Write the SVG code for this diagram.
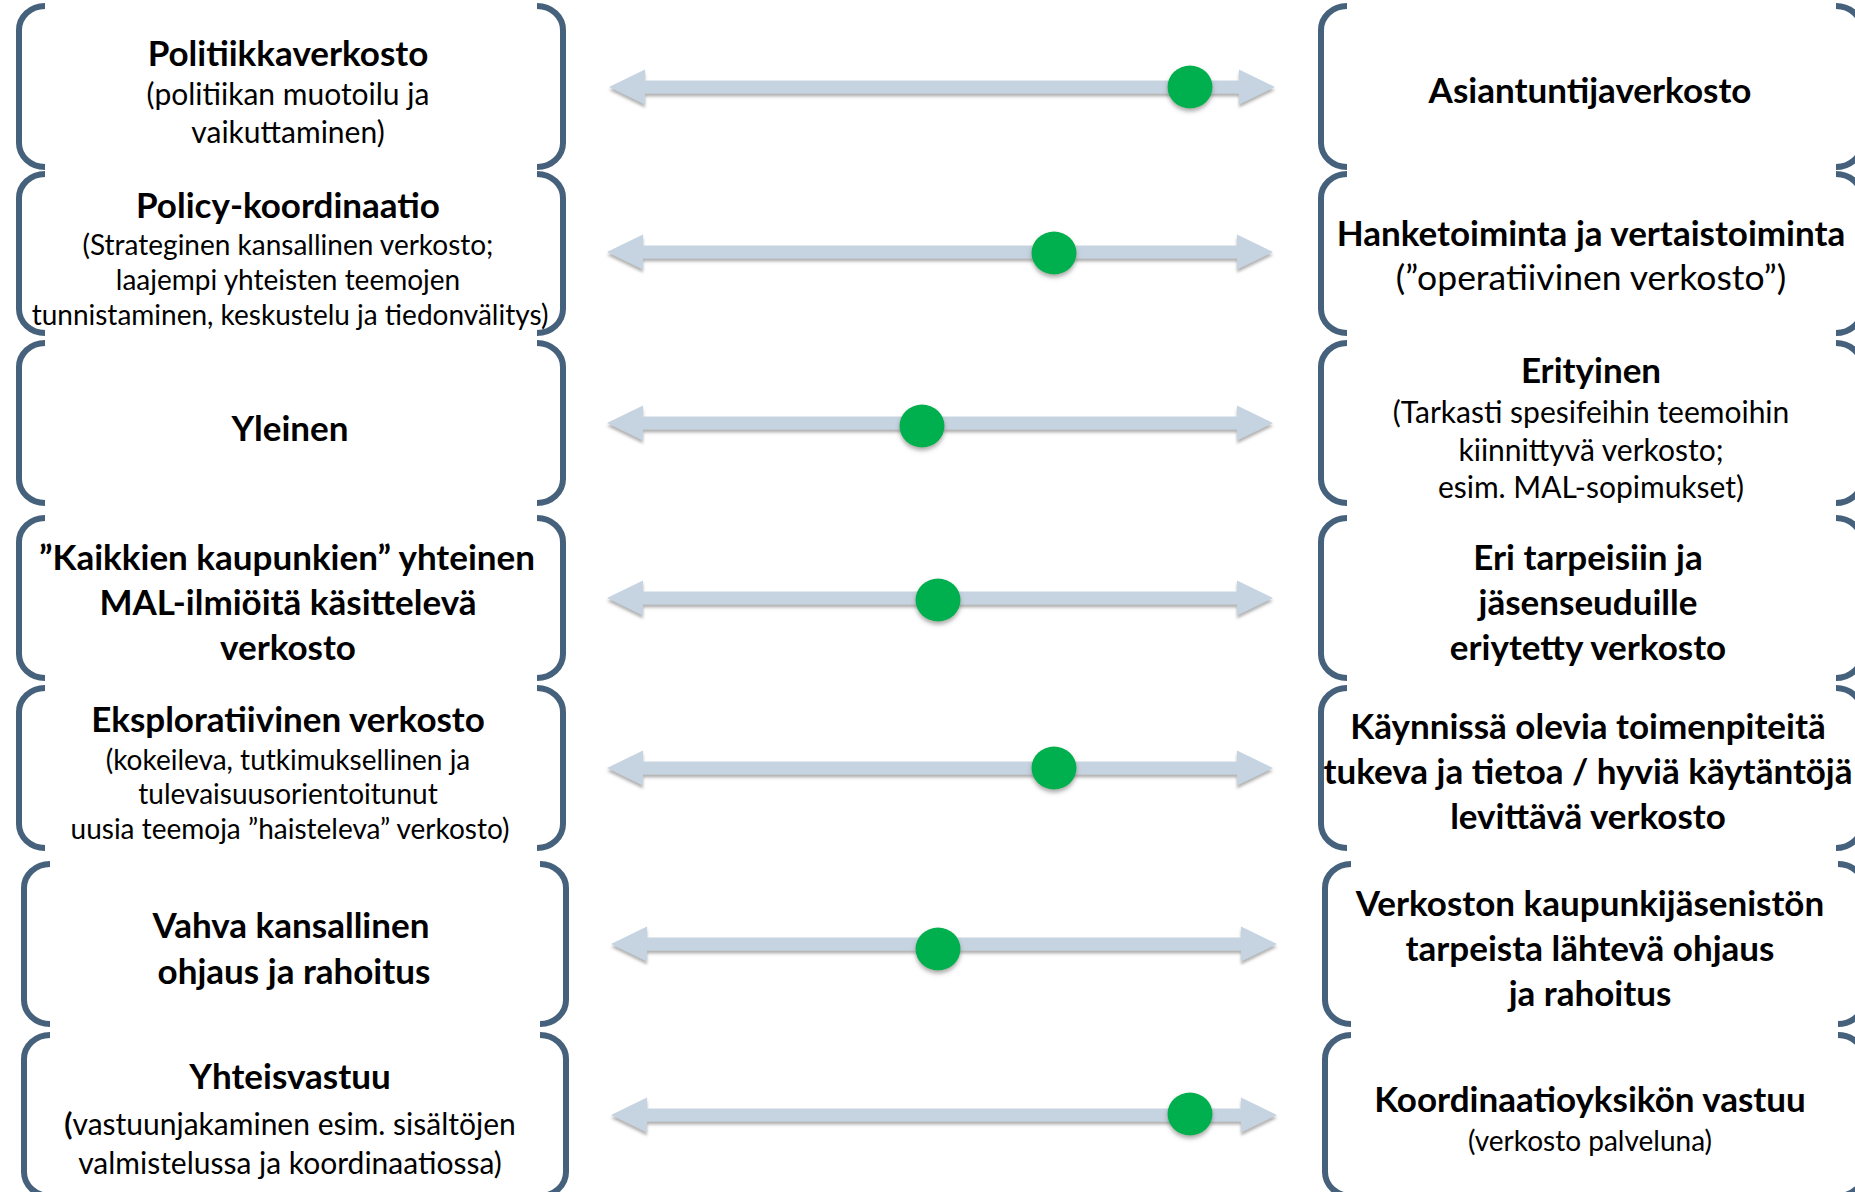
<svg xmlns="http://www.w3.org/2000/svg" xmlns:xlink="http://www.w3.org/1999/xlink" width="1855" height="1192" viewBox="0 0 1855 1192">
<defs>
<style>
.br{fill:none;stroke:#46617B;stroke-width:6}
text{font-family:Lato,'Open Sans','Liberation Sans',sans-serif;fill:#000;text-anchor:middle}
.b{font-weight:700;font-size:35px}
.s{font-weight:400;font-size:28px}
.s2{font-weight:400;font-size:30px}
.m{font-weight:400;font-size:35.5px}
.xs{font-weight:400;font-size:28px}
.arr{fill:#C6D3E0;filter:url(#sh)}
.dot{fill:#00B050;filter:url(#sh2)}
</style>
<filter id="sh" x="-5%" y="-50%" width="110%" height="200%">
<feDropShadow dx="0" dy="3" stdDeviation="1.5" flood-color="#6f6f6f" flood-opacity="0.55"/>
</filter>
<filter id="sh2" x="-50%" y="-50%" width="200%" height="200%">
<feDropShadow dx="0" dy="3" stdDeviation="2" flood-color="#555" flood-opacity="0.5"/>
</filter>
<polygon id="arrow" points="0,0 36,-17.5 36,-6.5 630,-6.5 630,-17.5 666,0 630,17.5 630,6.5 36,6.5 36,17.5"/>
</defs>
<rect width="1855" height="1192" fill="#fff"/>

<g id="connectors">
<use xlink:href="#arrow" class="arr" x="609" y="87"/>
<use xlink:href="#arrow" class="arr" x="607" y="252"/>
<use xlink:href="#arrow" class="arr" x="607" y="423"/>
<use xlink:href="#arrow" class="arr" x="607" y="598"/>
<use xlink:href="#arrow" class="arr" x="607" y="768"/>
<use xlink:href="#arrow" class="arr" x="611" y="944"/>
<use xlink:href="#arrow" class="arr" x="611" y="1115"/>
</g>
<g id="dots">
<ellipse class="dot" cx="1190" cy="87" rx="22.5" ry="21.5"/>
<ellipse class="dot" cx="1054" cy="253" rx="22.5" ry="21.5"/>
<ellipse class="dot" cx="922" cy="426" rx="22.5" ry="21.5"/>
<ellipse class="dot" cx="938" cy="600" rx="22.5" ry="21.5"/>
<ellipse class="dot" cx="1054" cy="768" rx="22.5" ry="21.5"/>
<ellipse class="dot" cx="938" cy="949" rx="22.5" ry="21.5"/>
<ellipse class="dot" cx="1190" cy="1114" rx="22.5" ry="21.5"/>
</g>

<g id="left1">
<path class="br" d="M45,6 A26,24 0 0 0 19,30 V143 A26,24 0 0 0 45,167"/>
<path class="br" d="M537,6 A26,24 0 0 1 563,30 V143 A26,24 0 0 1 537,167"/>
<text class="b" x="288" y="66">Politiikkaverkosto</text>
<text class="s2" x="288" y="105">(politiikan muotoilu ja</text>
<text class="s2" x="288" y="143">vaikuttaminen)</text>
</g>
<g id="left2">
<path class="br" d="M45,174 A26,24 0 0 0 19,198 V309 A26,24 0 0 0 45,333"/>
<path class="br" d="M537,174 A26,24 0 0 1 563,198 V309 A26,24 0 0 1 537,333"/>
<text class="b" x="288" y="218">Policy-koordinaatio</text>
<text class="s" x="288" y="255">(Strateginen kansallinen verkosto;</text>
<text class="s" x="288" y="290">laajempi yhteisten teemojen</text>
<text class="s" x="290" y="325">tunnistaminen, keskustelu ja tiedonvälitys)</text>
</g>
<g id="left3">
<path class="br" d="M45,343 A26,24 0 0 0 19,367 V479 A26,24 0 0 0 45,503"/>
<path class="br" d="M537,343 A26,24 0 0 1 563,367 V479 A26,24 0 0 1 537,503"/>
<text class="b" x="290" y="441">Yleinen</text>
</g>
<g id="left4">
<path class="br" d="M45,518 A26,24 0 0 0 19,542 V654 A26,24 0 0 0 45,678"/>
<path class="br" d="M537,518 A26,24 0 0 1 563,542 V654 A26,24 0 0 1 537,678"/>
<text class="b" x="287" y="570">”Kaikkien kaupunkien” yhteinen</text>
<text class="b" x="288" y="615">MAL-ilmiöitä käsittelevä</text>
<text class="b" x="288" y="660">verkosto</text>
</g>
<g id="left5">
<path class="br" d="M45,688 A26,24 0 0 0 19,712 V824 A26,24 0 0 0 45,848"/>
<path class="br" d="M537,688 A26,24 0 0 1 563,712 V824 A26,24 0 0 1 537,848"/>
<text class="b" x="288" y="732">Eksploratiivinen verkosto</text>
<text class="s" x="288" y="770">(kokeileva, tutkimuksellinen ja</text>
<text class="s" x="288" y="804">tulevaisuusorientoitunut</text>
<text class="s" x="290" y="839">uusia teemoja ”haisteleva” verkosto)</text>
</g>
<g id="left6">
<path class="br" d="M50,864 A26,24 0 0 0 24,888 V1000 A26,24 0 0 0 50,1024"/>
<path class="br" d="M540,864 A26,24 0 0 1 566,888 V1000 A26,24 0 0 1 540,1024"/>
<text class="b" x="291" y="938">Vahva kansallinen</text>
<text class="b" x="294" y="984">ohjaus ja rahoitus</text>
</g>
<g id="left7">
<path class="br" d="M50,1035 A26,24 0 0 0 24,1059 V1172 A26,24 0 0 0 50,1196"/>
<path class="br" d="M540,1035 A26,24 0 0 1 566,1059 V1172 A26,24 0 0 1 540,1196"/>
<text class="b" x="290" y="1089">Yhteisvastuu</text>
<text class="s2" x="290" y="1135" font-size="30.5"><tspan font-weight="700">(</tspan>vastuunjakaminen esim. sisältöjen</text>
<text class="s2" x="290" y="1174">valmistelussa ja koordinaatiossa)</text>
</g>

<g id="right1">
<path class="br" d="M1347,6 A26,24 0 0 0 1321,30 V143 A26,24 0 0 0 1347,167"/>
<path class="br" d="M1836,6 A26,24 0 0 1 1862,30 V143 A26,24 0 0 1 1836,167"/>
<text class="b" x="1590" y="103">Asiantuntijaverkosto</text>
</g>
<g id="right2">
<path class="br" d="M1347,174 A26,24 0 0 0 1321,198 V309 A26,24 0 0 0 1347,333"/>
<path class="br" d="M1836,174 A26,24 0 0 1 1862,198 V309 A26,24 0 0 1 1836,333"/>
<text class="b" x="1591" y="246">Hanketoiminta ja vertaistoiminta</text>
<text class="m" x="1591" y="290">(”operatiivinen verkosto”)</text>
</g>
<g id="right3">
<path class="br" d="M1347,343 A26,24 0 0 0 1321,367 V479 A26,24 0 0 0 1347,503"/>
<path class="br" d="M1836,343 A26,24 0 0 1 1862,367 V479 A26,24 0 0 1 1836,503"/>
<text class="b" x="1591" y="383">Erityinen</text>
<text class="s2" x="1591" y="423">(Tarkasti spesifeihin teemoihin</text>
<text class="s2" x="1591" y="461">kiinnittyvä verkosto;</text>
<text class="s2" x="1591" y="498">esim. MAL-sopimukset)</text>
</g>
<g id="right4">
<path class="br" d="M1347,518 A26,24 0 0 0 1321,542 V654 A26,24 0 0 0 1347,678"/>
<path class="br" d="M1836,518 A26,24 0 0 1 1862,542 V654 A26,24 0 0 1 1836,678"/>
<text class="b" x="1588" y="570">Eri tarpeisiin ja</text>
<text class="b" x="1588" y="615">jäsenseuduille</text>
<text class="b" x="1588" y="660">eriytetty verkosto</text>
</g>
<g id="right5">
<path class="br" d="M1347,688 A26,24 0 0 0 1321,712 V824 A26,24 0 0 0 1347,848"/>
<path class="br" d="M1836,688 A26,24 0 0 1 1862,712 V824 A26,24 0 0 1 1836,848"/>
<text class="b" x="1588" y="739">Käynnissä olevia toimenpiteitä</text>
<text class="b" x="1588" y="784">tukeva ja tietoa / hyviä käytäntöjä</text>
<text class="b" x="1588" y="829">levittävä verkosto</text>
</g>
<g id="right6">
<path class="br" d="M1351,864 A26,24 0 0 0 1325,888 V1000 A26,24 0 0 0 1351,1024"/>
<path class="br" d="M1838,864 A26,24 0 0 1 1864,888 V1000 A26,24 0 0 1 1838,1024"/>
<text class="b" x="1590" y="916">Verkoston kaupunkijäsenistön</text>
<text class="b" x="1590" y="961">tarpeista lähtevä ohjaus</text>
<text class="b" x="1590" y="1006">ja rahoitus</text>
</g>
<g id="right7">
<path class="br" d="M1351,1035 A26,24 0 0 0 1325,1059 V1172 A26,24 0 0 0 1351,1196"/>
<path class="br" d="M1838,1035 A26,24 0 0 1 1864,1059 V1172 A26,24 0 0 1 1838,1196"/>
<text class="b" x="1590" y="1112">Koordinaatioyksikön vastuu</text>
<text class="xs" x="1590" y="1151">(verkosto palveluna)</text>
</g>
</svg>
